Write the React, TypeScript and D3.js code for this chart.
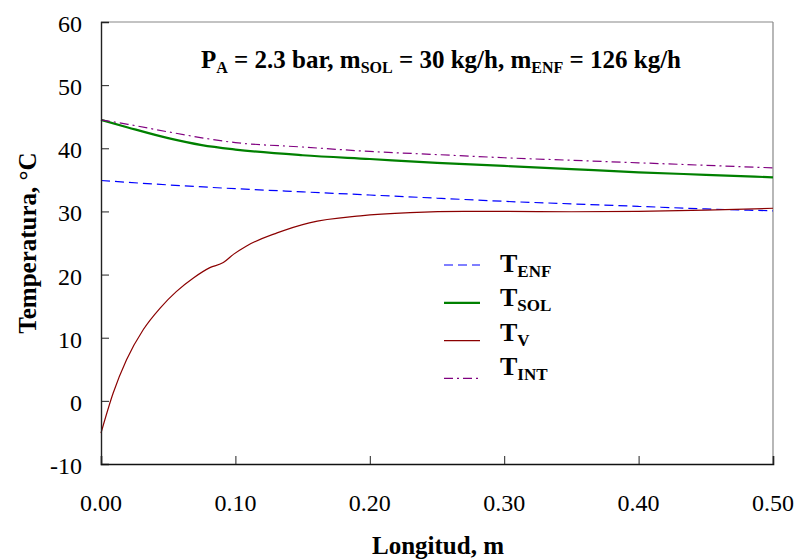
import { useRef, useEffect } from "react";
import * as d3 from "d3";

const xTicks = [0, 0.1, 0.2, 0.3, 0.4, 0.5];
const yTicks = [-10, 0, 10, 20, 30, 40, 50, 60];

const tEnf = [
  [0, 34.9], [0.05, 34.2], [0.1, 33.6], [0.15, 33.1], [0.2, 32.6], [0.25, 32.1],
  [0.3, 31.6], [0.35, 31.2], [0.4, 30.8], [0.45, 30.4], [0.5, 30.1],
];
const tSol = [
  [0, 44.5], [0.02, 43.3], [0.05, 41.6], [0.075, 40.5], [0.1, 39.8], [0.15, 38.9],
  [0.2, 38.3], [0.25, 37.7], [0.3, 37.2], [0.35, 36.7], [0.4, 36.2], [0.45, 35.8], [0.5, 35.4],
];
const tV = [
  [0, -5.1], [0.009, 1.2], [0.019, 6.5], [0.0315, 11.3], [0.044, 14.7], [0.056, 17.3],
  [0.069, 19.5], [0.081, 21.1], [0.091, 21.9], [0.0985, 23.2], [0.108, 24.5],
  [0.131, 26.6], [0.155, 28.2], [0.193, 29.3], [0.23, 29.8], [0.27, 30.0],
  [0.3, 30.0], [0.35, 29.95], [0.4, 30.0], [0.45, 30.2], [0.5, 30.5],
];
const tInt = [
  [0, 44.5], [0.02, 43.8], [0.05, 42.6], [0.1, 40.9], [0.15, 40.2], [0.2, 39.5],
  [0.25, 39.0], [0.3, 38.5], [0.35, 38.1], [0.4, 37.7], [0.45, 37.3], [0.5, 36.9],
];

const series = [
  { main: "T", sub: "ENF", data: tEnf, color: "#0000ff", width: 1.2, dash: "9,5" },
  { main: "T", sub: "SOL", data: tSol, color: "#008000", width: 2.2, dash: null },
  { main: "T", sub: "V", data: tV, color: "#8b0000", width: 1.2, dash: null },
  { main: "T", sub: "INT", data: tInt, color: "#800080", width: 1.2, dash: "9,4,2,4" },
];

const W = 800;
const H = 559;
const margin = { top: 22, right: 27, bottom: 95, left: 101 };
const FONT = "'Liberation Serif', 'Times New Roman', serif";

export default function App() {
  const svgRef = useRef<SVGSVGElement>(null);

  useEffect(() => {
    const svg = d3.select(svgRef.current);
    svg.selectAll("*").remove();

    const x = d3.scaleLinear().domain([0, 0.5]).range([margin.left, W - margin.right]);
    const y = d3.scaleLinear().domain([-10, 60]).range([H - margin.bottom, margin.top]);

    // frame (top/right in grey)
    svg.append("line")
      .attr("x1", x(0)).attr("x2", x(0.5)).attr("y1", y(60)).attr("y2", y(60))
      .attr("stroke", "#888").attr("stroke-width", 1.2);
    svg.append("line")
      .attr("x1", x(0.5)).attr("x2", x(0.5)).attr("y1", y(60)).attr("y2", y(-10))
      .attr("stroke", "#888").attr("stroke-width", 1.2);

    const line = d3.line<number[]>()
      .x((d) => x(d[0]))
      .y((d) => y(d[1]))
      .curve(d3.curveMonotoneX);

    series.forEach((s) => {
      svg.append("path")
        .datum(s.data)
        .attr("fill", "none")
        .attr("stroke", s.color)
        .attr("stroke-width", s.width)
        .attr("stroke-dasharray", s.dash)
        .attr("d", line);
    });

    // axes, ticks pointing inward
    const yAxis = svg.append("g")
      .attr("transform", `translate(${margin.left},0)`)
      .call(d3.axisRight(y).tickValues(yTicks).tickSize(8).tickFormat(() => ""));
    yAxis.select(".domain").attr("stroke", "#222").attr("stroke-width", 1.4);
    yAxis.selectAll(".tick line").attr("stroke", "#222");

    const xAxis = svg.append("g")
      .attr("transform", `translate(0,${H - margin.bottom})`)
      .call(d3.axisTop(x).tickValues(xTicks).tickSize(8).tickFormat(() => ""));
    xAxis.select(".domain").attr("stroke", "#111").attr("stroke-width", 1.6);
    xAxis.selectAll(".tick line").attr("stroke", "#222");

    svg.append("g")
      .selectAll("text")
      .data(yTicks)
      .enter()
      .append("text")
      .attr("x", 82)
      .attr("y", (d) => y(d) + 10)
      .attr("text-anchor", "end")
      .style("font-family", FONT)
      .style("font-size", "24px")
      .text((d) => d);

    svg.append("g")
      .selectAll("text")
      .data(xTicks)
      .enter()
      .append("text")
      .attr("x", (d) => x(d))
      .attr("y", 511)
      .attr("text-anchor", "middle")
      .style("font-family", FONT)
      .style("font-size", "24px")
      .text((d) => d3.format(".2f")(d));

    svg.append("text")
      .attr("x", 438)
      .attr("y", 554)
      .attr("text-anchor", "middle")
      .style("font-family", FONT)
      .style("font-size", "25px")
      .style("font-weight", "bold")
      .text("Longitud, m");

    svg.append("text")
      .attr("transform", `translate(36,${(y(60) + y(-10)) / 2}) rotate(-90)`)
      .attr("text-anchor", "middle")
      .style("font-family", FONT)
      .style("font-size", "25px")
      .style("font-weight", "bold")
      .text("Temperatura, °C");

    // title
    const title = svg.append("text")
      .attr("x", 441)
      .attr("y", 68)
      .attr("text-anchor", "middle")
      .style("font-family", FONT)
      .style("font-size", "25px")
      .style("font-weight", "bold");
    const parts: [string, boolean][] = [
      ["P", false], ["A", true], [" = 2.3 bar, m", false], ["SOL", true],
      [" = 30 kg/h, m", false], ["ENF", true], [" = 126 kg/h", false],
    ];
    let shifted = false;
    parts.forEach(([t, sub]) => {
      const dy = sub && !shifted ? 5 : !sub && shifted ? -5 : 0;
      shifted = sub;
      title.append("tspan")
        .style("font-size", sub ? "16px" : "25px")
        .attr("dy", dy)
        .text(t);
    });

    // legend: line rows and text rows are spaced a bit differently
    const legend = svg.append("g");
    series.forEach((s, i) => {
      const ly = 265 + i * 37.8;
      legend.append("line")
        .attr("x1", 444).attr("x2", 480)
        .attr("y1", ly).attr("y2", ly)
        .attr("stroke", s.color)
        .attr("stroke-width", s.width)
        .attr("stroke-dasharray", s.dash);
      const t = legend.append("text")
        .attr("x", 500)
        .attr("y", 272 + i * 34.4)
        .style("font-family", FONT)
        .style("font-weight", "bold");
      t.append("tspan").style("font-size", "26px").text(s.main);
      t.append("tspan").style("font-size", "17px").attr("dy", 5).text(s.sub);
    });
  }, []);

  return (
    <svg
      ref={svgRef}
      width={W}
      height={H}
      style={{ position: "absolute", left: 0, top: 0, background: "#fff" }}
    />
  );
}
